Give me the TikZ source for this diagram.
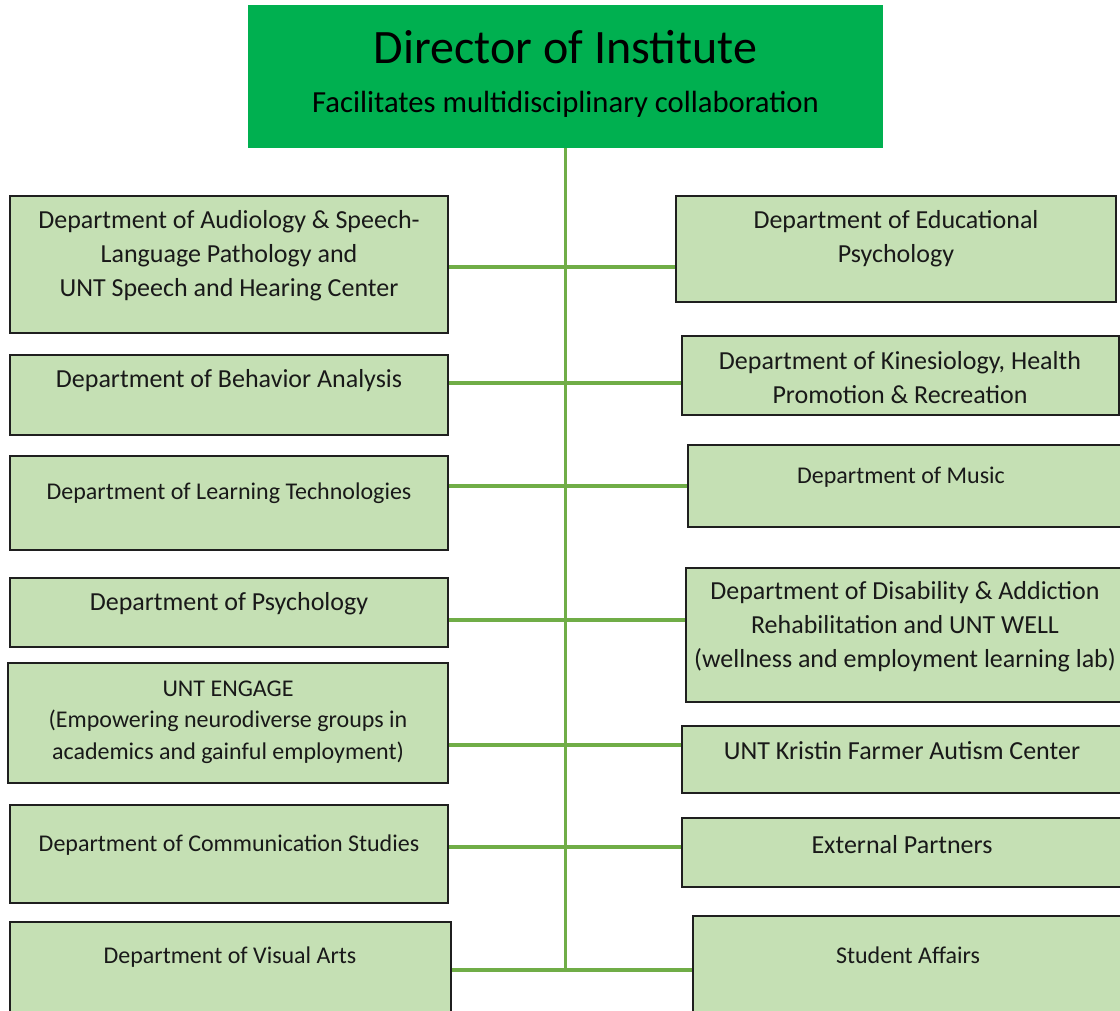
\documentclass[tikz,border=0pt]{standalone}
\usepackage{fontspec}
\setmainfont{Carlito}
\definecolor{dirgreen}{HTML}{00B050}
\definecolor{deptgreen}{HTML}{C5E0B4}
\definecolor{linkgreen}{HTML}{70AD47}
\tikzset{
  deptbox/.style={draw=black!88, line width=1.5pt, fill=deptgreen, inner sep=0pt},
  depttext/.style={font=\fontsize{19.5}{25.5}\selectfont, align=center, inner sep=0pt, text=black!90},
  deptsmall/.style={depttext, font=\fontsize{18}{23.8}\selectfont},
  link/.style={draw=linkgreen, line width=2.3pt},
}
\begin{document}
\begin{tikzpicture}[x=0.75pt, y=-0.75pt]
% One unit is one pixel of the chart
\def\px{0.75pt}
\clip (0,0) rectangle (1120,1010);

% Director at the top
\node[fill=dirgreen, inner sep=0pt, minimum width=635*\px, minimum height=143*\px] (dir) at (565.5,76.5) {};
\node[font=\fontsize{36}{40}\selectfont, inner sep=0pt] (dirtitle) at (565.5,47) {Director of Institute};
\node[font=\fontsize{23}{27}\selectfont, inner sep=0pt] (dirsub) at (565.5,104) {Facilitates multidisciplinary collaboration};

% Left column
\node[deptbox, minimum width=438*\px, minimum height=137*\px] (aud) at (229,264.5) {};
\node[deptbox, minimum width=438*\px, minimum height=80*\px] (beh) at (229,395) {};
\node[deptbox, minimum width=438*\px, minimum height=94*\px] (lrn) at (229,503) {};
\node[deptbox, minimum width=438*\px, minimum height=69*\px] (psy) at (229,612.5) {};
\node[deptbox, minimum width=440*\px, minimum height=120*\px] (eng) at (228,723) {};
\node[deptbox, minimum width=438*\px, minimum height=98*\px] (com) at (229,854) {};
\node[deptbox, minimum width=441*\px, minimum height=96*\px] (vis) at (230.5,970) {};

% Right column
\node[deptbox, minimum width=440*\px, minimum height=106*\px] (edu) at (896,249) {};
\node[deptbox, minimum width=437*\px, minimum height=79*\px] (kin) at (900.5,375) {};
\node[deptbox, minimum width=436*\px, minimum height=82*\px] (mus) at (906,486) {};
\node[deptbox, minimum width=438*\px, minimum height=134*\px] (dis) at (905,635) {};
\node[deptbox, minimum width=440*\px, minimum height=67*\px] (aut) at (902,759.5) {};
\node[deptbox, minimum width=440*\px, minimum height=69*\px] (ext) at (902,852.5) {};
\node[deptbox, minimum width=430*\px, minimum height=100*\px] (stu) at (908,966) {};

% Connectors: spine and one rung per row
\coordinate (j1) at (565.5,267);
\coordinate (j2) at (565.5,383);
\coordinate (j3) at (565.5,486);
\coordinate (j4) at (565.5,620);
\coordinate (j5) at (565.5,745);
\coordinate (j6) at (565.5,847);
\coordinate (j7) at (565.5,970);
\draw[link] (dir.south) -- (j7);
\draw[link] (aud.east |- j1) -- (edu.west |- j1);
\draw[link] (beh.east |- j2) -- (kin.west |- j2);
\draw[link] (lrn.east |- j3) -- (mus.west |- j3);
\draw[link] (psy.east |- j4) -- (dis.west |- j4);
\draw[link] (eng.east |- j5) -- (aut.west |- j5);
\draw[link] (com.east |- j6) -- (ext.west |- j6);
\draw[link] (vis.east |- j7) -- (stu.west |- j7);

% Box texts
\node[depttext] (audtxt) at (229,256) {Department of Audiology \& Speech-\\Language Pathology and\\UNT Speech and Hearing Center};
\node[depttext] (behtxt) at (229,381) {Department of Behavior Analysis};
\node[deptsmall] (lrntxt) at (229,493) {Department of Learning Technologies};
\node[depttext] (psytxt) at (229,604) {Department of Psychology};
\node[deptsmall] (engtxt) at (228,722) {UNT ENGAGE\\(Empowering neurodiverse groups in\\academics and gainful employment)};
\node[deptsmall] (comtxt) at (229,845) {Department of Communication Studies};
\node[deptsmall] (vistxt) at (230,957) {Department of Visual Arts};
\node[depttext] (edutxt) at (896,239) {Department of Educational\\Psychology};
\node[depttext] (kintxt) at (900,378) {Department of Kinesiology, Health\\Promotion \& Recreation};
\node[deptsmall] (mustxt) at (901,477) {Department of Music};
\node[depttext] (distxt) at (905,627) {Department of Disability \& Addiction\\Rehabilitation and UNT WELL\\(wellness and employment learning lab)};
\node[depttext] (auttxt) at (902,751) {UNT Kristin Farmer Autism Center};
\node[depttext] (exttxt) at (902,845) {External Partners};
\node[deptsmall] (stutxt) at (908,955) {Student Affairs};
\end{tikzpicture}
\end{document}
